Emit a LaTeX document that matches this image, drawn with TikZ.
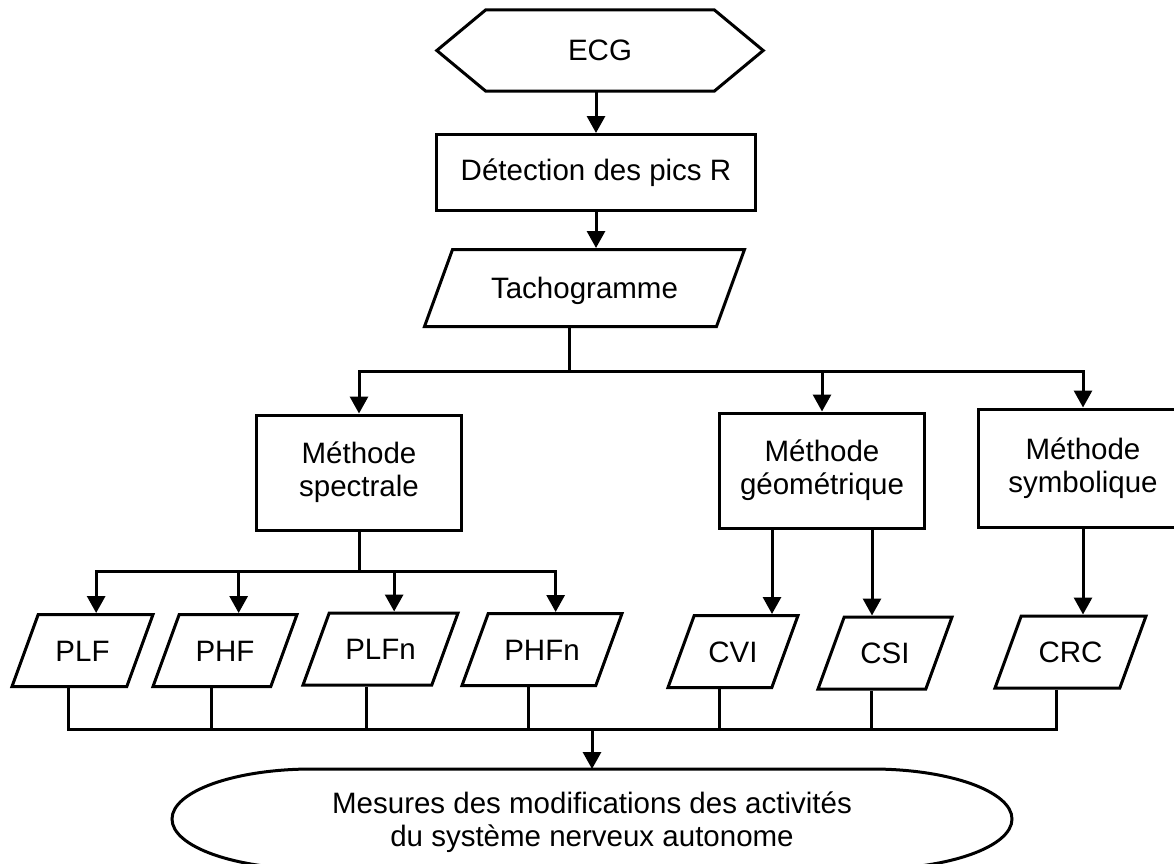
\documentclass[tikz,border=0pt]{standalone}
\usepackage{fontspec}
\setmainfont{Liberation Sans}
\usetikzlibrary{shapes.geometric, arrows.meta}

\begin{document}
\begin{tikzpicture}[x=1pt, y=-1pt,
  font=\fontsize{29.5}{33}\selectfont,
  wire/.style = {line width=3pt},
  arr/.style = {wire, -{Triangle[width=18pt, length=17pt]}},
  box/.style = {draw, line width=3pt, align=center, minimum width=205, minimum height=115},
  para/.style = {trapezium, trapezium left angle=70, trapezium right angle=110,
                 trapezium stretches body=true, draw, line width=3pt,
                 text height=21pt, text depth=0pt, inner xsep=2pt, inner ysep=25.5pt},
  ]
  \useasboundingbox (0,0) rectangle (1174,863);

  \node[minimum width=326, minimum height=81] (ecg) at (600,50.5) {ECG};
  \draw[wire] (ecg.west) -- ([xshift=49pt]ecg.north west) -- ([xshift=-49pt]ecg.north east)
    -- (ecg.east) -- ([xshift=-49pt]ecg.south east) -- ([xshift=49pt]ecg.south west) -- cycle;
  \node[box, minimum width=319, minimum height=76] (det) at (596,172.5) {Détection des pics R};
  \node[para, minimum width=320, inner ysep=28pt] (tacho) at (584.5,288) {Tachogramme};

  \node[box] (spec) at (359,472.5) {Méthode\\spectrale};
  \node[box] (geom) at (822,470.5) {Méthode\\géométrique};
  \node[box, minimum width=210, minimum height=118] (symb) at (1083,468) {Méthode\\symbolique};

  \node[para, minimum width=141] (plf) at (82.5,650.5) {PLF};
  \node[para, minimum width=144] (phf) at (225,650.5) {PHF};
  \node[para, minimum width=155] (plfn) at (380.5,649) {PLFn};
  \node[para, minimum width=160] (phfn) at (542,649.5) {PHFn};
  \node[para, minimum width=130] (cvi) at (733,651.5) {CVI};
  \node[para, minimum width=134] (csi) at (885,653) {CSI};
  \node[para, minimum width=151] (crc) at (1070.5,652) {CRC};

  \node[align=center] (mesures) at (592,822)
    {Mesures des modifications des activités\\du système nerveux autonome};
  \draw[wire] (312,769) -- (872,769)
    arc[start angle=90, end angle=-90, x radius=140pt, y radius=50pt] -- (312,869)
    arc[start angle=270, end angle=90, x radius=140pt, y radius=50pt] -- cycle;
  \coordinate (mtop) at (592,769);
  \coordinate (jb) at (592,729);

  \draw[arr] (ecg.south -| det.north) -- (det.north);
  \draw[arr] (det.south) -- (det.south |- tacho.top side);

  \draw[wire] (tacho.bottom side) -- ++(0,43) coordinate (tb);
  \draw[arr] (tb) -| (spec.north);
  \draw[arr] (tb) -| (symb.north);
  \draw[arr] (tb -| geom.north) -- (geom.north);

  \draw[wire] (spec.south) -- ++(0,40) coordinate (sb);
  \draw[arr] (sb) -| (plf.top side);
  \draw[arr] (sb) -| (phfn.top side);
  \foreach \n in {phf,plfn}
    \draw[arr] (sb -| \n.top side) -- (\n.top side);

  \draw[arr] ([xshift=-50pt]geom.south) -- ([xshift=-50pt]geom.south |- cvi.top side);
  \draw[arr] ([xshift=50pt]geom.south) -- ([xshift=50pt]geom.south |- csi.top side);
  \draw[arr] (symb.south) -- (symb.south |- crc.top side);

  \draw[wire] (plf.bottom side) |- (crc.bottom side |- jb) -- (crc.bottom side);
  \foreach \n in {phf,plfn,phfn,cvi,csi}
    \draw[wire] (\n.bottom side) -- (\n.bottom side |- jb);
  \draw[arr] (jb) -- (mtop);
\end{tikzpicture}
\end{document}
